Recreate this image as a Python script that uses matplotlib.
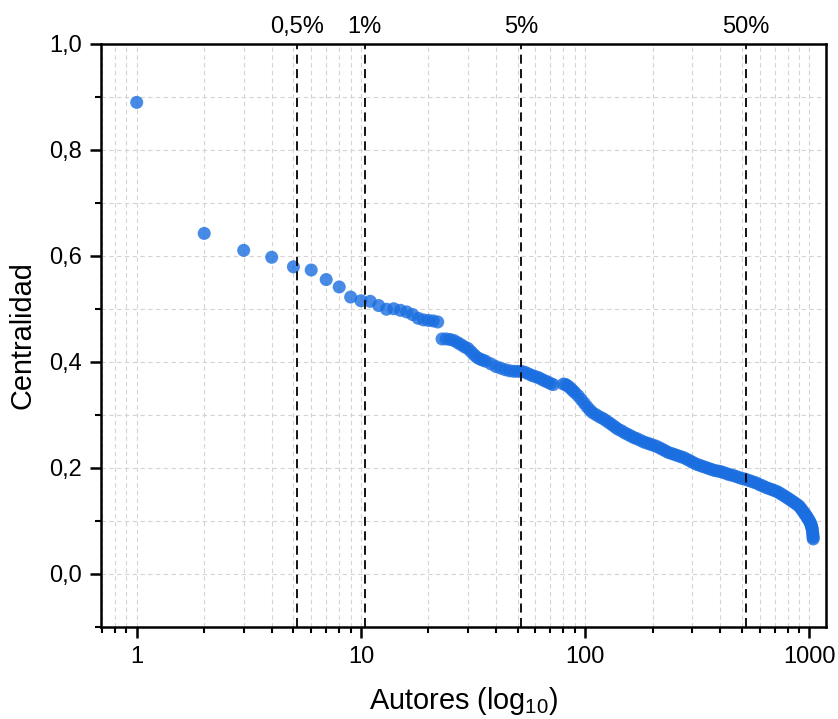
import matplotlib
matplotlib.use("Agg")
import matplotlib.pyplot as plt
from matplotlib.ticker import FixedLocator, FixedFormatter, LogLocator, NullLocator, MultipleLocator, NullFormatter

plt.rcParams['font.family'] = ['Liberation Sans', 'DejaVu Sans']
plt.rcParams['mathtext.fontset'] = 'custom'
plt.rcParams['mathtext.rm'] = 'Liberation Sans'
plt.rcParams['mathtext.it'] = 'Liberation Sans:italic'

# ---- data ----
rank = [1, 2, 3, 4, 5, 6, 7, 8, 9, 10, 11, 12, 13, 14, 15, 16, 17, 18, 19, 20, 21, 22,
        23, 24, 25, 26, 27, 28, 29, 30, 31, 32, 33, 34, 35, 36, 38, 40, 42, 44, 46, 48,
        50, 52, 54, 56, 58, 60, 62, 64, 66, 68, 70, 72,
        80, 82, 84, 86, 88, 90, 93, 96, 99, 102, 105, 108, 112, 116, 120, 124, 128,
        132, 136, 140, 145, 150, 155, 160, 165, 170, 176, 182, 188, 194, 200, 207,
        214, 221, 228, 235, 243, 251, 259, 267, 276, 285, 294, 303, 313, 323, 333,
        344, 355, 366, 378, 390, 402, 415, 428, 441, 455, 469, 484, 499, 515, 531,
        548, 565, 583, 601, 620, 640, 660, 680, 700, 720, 740, 760, 780, 800, 820,
        840, 860, 880, 900, 915, 930, 945, 960, 970, 980, 990, 1000, 1008, 1015,
        1020, 1025, 1029, 1032, 1035, 1037, 1039, 1040]
centrality = [0.889, 0.642, 0.610, 0.597, 0.579, 0.573, 0.555, 0.541, 0.522, 0.515, 0.514,
              0.506, 0.499, 0.500, 0.497, 0.494, 0.489, 0.482, 0.479, 0.478, 0.477, 0.475,
              0.443, 0.443, 0.442, 0.440, 0.436, 0.432, 0.428, 0.425, 0.419, 0.413,
              0.408, 0.405, 0.403, 0.401, 0.396, 0.391, 0.388, 0.385, 0.383, 0.382,
              0.382, 0.382, 0.380, 0.377, 0.374, 0.372, 0.370, 0.367, 0.364, 0.362, 0.359, 0.357,
              0.358, 0.357, 0.354, 0.350, 0.346, 0.342, 0.336, 0.329, 0.322, 0.315, 0.309,
              0.304, 0.300, 0.296, 0.293, 0.289, 0.285,
              0.281, 0.277, 0.273, 0.270, 0.266, 0.263, 0.260, 0.257, 0.255, 0.252, 0.249,
              0.247, 0.245, 0.243, 0.241,
              0.238, 0.235, 0.232, 0.229, 0.227, 0.225, 0.223, 0.221, 0.219, 0.216, 0.213,
              0.210, 0.207, 0.205, 0.203,
              0.201, 0.199, 0.197, 0.195, 0.194, 0.193, 0.191, 0.189, 0.187, 0.186, 0.184,
              0.182, 0.180, 0.179, 0.177,
              0.175, 0.173, 0.171, 0.168, 0.166, 0.163, 0.161, 0.159, 0.157, 0.155, 0.152,
              0.149, 0.146, 0.143, 0.140,
              0.137, 0.134, 0.131, 0.128, 0.124, 0.120, 0.116, 0.112, 0.109, 0.106, 0.103,
              0.100, 0.097, 0.094,
              0.091, 0.088, 0.085, 0.081, 0.077, 0.073, 0.069, 0.066]

n_authors = 1040
pct_values = [0.005, 0.01, 0.05, 0.5]
pct_labels = ['0,5%', '1%', '5%', '50%']

x_ticks = [1, 10, 100, 1000]
x_ticklabels = ['1', '10', '100', '1000']
y_ticks = [0.0, 0.2, 0.4, 0.6, 0.8, 1.0]
y_ticklabels = ['0,0', '0,2', '0,4', '0,6', '0,8', '1,0']

# ---- figure ----
fig = plt.figure(figsize=(8.38, 7.19), dpi=100)
ax = fig.add_axes([101 / 838, (719 - 627) / 719, (826 - 101) / 838, (627 - 43.5) / 719])

ax.set_xscale('log')
ax.set_xlim(0.693, 1186)
ax.set_ylim(-0.1, 1.0)

ax.grid(True, which='both', axis='both', color='#d4d4d4', linestyle=(0, (4, 3)), linewidth=0.8, zorder=0)
ax.set_axisbelow(True)

ax.scatter(rank, centrality, s=88, color='#1a6ee0', alpha=0.8, edgecolors='none', zorder=2)

pct_pos = [p * n_authors for p in pct_values]
for xp in pct_pos:
    ax.axvline(xp, color='black', linestyle=(0, (5, 3)), linewidth=1.3, zorder=3)

ax.xaxis.set_major_locator(FixedLocator(x_ticks))
ax.xaxis.set_major_formatter(FixedFormatter(x_ticklabels))
ax.xaxis.set_minor_locator(LogLocator(base=10, subs=[2, 3, 4, 5, 6, 7, 8, 9], numticks=20))
ax.xaxis.set_minor_formatter(NullFormatter())
ax.yaxis.set_major_locator(FixedLocator(y_ticks))
ax.yaxis.set_major_formatter(FixedFormatter(y_ticklabels))
ax.yaxis.set_minor_locator(MultipleLocator(0.1))

ax.tick_params(which='major', direction='out', length=8, width=1.8, labelsize=17, pad=6, color='black')
ax.tick_params(which='minor', direction='out', length=4, width=1.5, color='black')
ax.tick_params(top=False, right=False, which='both')

for sp in ax.spines.values():
    sp.set_linewidth(1.8)
    sp.set_color('black')

ax.set_ylabel('Centralidad', fontsize=20.8, labelpad=9)
ax.set_xlabel('Autores (log$_{10}$)', fontsize=20.8, labelpad=12)

ax2 = ax.twiny()
ax2.set_xscale('log')
ax2.set_xlim(ax.get_xlim())
ax2.xaxis.set_major_locator(FixedLocator(pct_pos))
ax2.xaxis.set_major_formatter(FixedFormatter(pct_labels))
ax2.xaxis.set_minor_locator(NullLocator())
ax2.tick_params(axis='x', which='major', length=0, labelsize=17, pad=4)
for sp in ax2.spines.values():
    sp.set_visible(False)

fig.savefig('out.png', dpi=100)
